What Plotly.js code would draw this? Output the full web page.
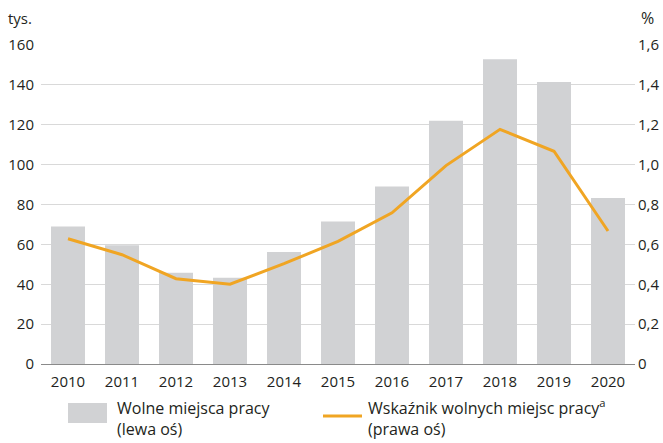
<!DOCTYPE html>
<html>
<head>
<meta charset="utf-8">
<script src="https://cdn.plot.ly/plotly-3.0.1.min.js"></script>
<style>html,body{margin:0;padding:0;background:#fff;}#chart{width:663px;height:443px;}</style>
</head>
<body>
<div id="chart"></div>
<script>
const years = ['2010','2011','2012','2013','2014','2015','2016','2017','2018','2019','2020'];
const vacancies = [69, 59.5, 45.8, 43.3, 56.2, 71.5, 89, 122, 152.8, 141.5, 83.2];
const vacancyRate = [0.628, 0.548, 0.428, 0.40, 0.503, 0.615, 0.758, 0.995, 1.177, 1.067, 0.667];
const leftTicks = [0, 20, 40, 60, 80, 100, 120, 140, 160];
const rightTicks = [0, 0.2, 0.4, 0.6, 0.8, 1.0, 1.2, 1.4, 1.6];
const rightTickText = ['0', '0,2', '0,4', '0,6', '0,8', '1,0', '1,2', '1,4', '1,6'];
const barLegend = 'Wolne miejsca pracy<br>(lewa oś)';
const lineLegend = 'Wskaźnik wolnych miejsc pracy<sup>a</sup><br>(prawa oś)';
const leftUnit = 'tys.';
const rightUnit = '%';

const barColor = '#d1d2d4';
const lineColor = '#f0a523';
const fam = 'Open Sans, Noto Sans, sans-serif';
const font = {family: fam, size: 15, color: '#231f20'};
const legendFont = {family: fam, size: 16, color: '#231f20'};

// plot area in px: x 41..635, y 45..364
const W = 663, H = 443, L = 41, R = 28, T = 45, B = 79;
const pw = W - L - R, ph = H - T - B;
const px = v => (v - L) / pw;
const py = v => (H - B - v) / ph;

const data = [
  {type: 'bar', x: years, y: vacancies, name: 'Wolne miejsca pracy (lewa oś)', marker: {color: barColor}, yaxis: 'y', hoverinfo: 'skip'},
  {type: 'scatter', mode: 'lines', x: years, y: vacancyRate, name: 'Wskaźnik wolnych miejsc pracy (prawa oś)', line: {color: lineColor, width: 3}, yaxis: 'y2', hoverinfo: 'skip'}
];

const layout = {
  width: W, height: H,
  margin: {l: L, r: R, t: T, b: B},
  paper_bgcolor: '#fff', plot_bgcolor: '#fff',
  font: font,
  bargap: 0.37,
  showlegend: false,
  xaxis: {type: 'category', showgrid: false, zeroline: false, showline: false, ticks: '', tickfont: font, ticklabelstandoff: 7, fixedrange: true},
  yaxis: {range: [0, 160], tickvals: leftTicks, showgrid: true, gridcolor: '#d9d9d9', gridwidth: 1, zeroline: true, zerolinecolor: '#8a8a8a', zerolinewidth: 1, showline: false, ticks: '', tickfont: font, ticklabelstandoff: 6, fixedrange: true},
  yaxis2: {range: [0, 1.6], overlaying: 'y', side: 'right', tickvals: rightTicks, ticktext: rightTickText, showgrid: false, zeroline: false, showline: false, ticks: '', tickfont: font, ticklabelstandoff: 2, fixedrange: true},
  shapes: [
    {type: 'rect', xref: 'paper', yref: 'paper', x0: px(68), x1: px(107), y0: py(423), y1: py(403), fillcolor: barColor, line: {width: 0}},
    {type: 'line', xref: 'paper', yref: 'paper', x0: px(323), x1: px(362), y0: py(416), y1: py(416), line: {color: lineColor, width: 3}}
  ],
  annotations: [
    {text: leftUnit, xref: 'paper', yref: 'paper', x: px(6), y: py(18), xanchor: 'left', yanchor: 'middle', showarrow: false, font: font},
    {text: rightUnit, xref: 'paper', yref: 'paper', x: px(639), y: py(18), xanchor: 'left', yanchor: 'middle', showarrow: false, font: {family: fam, size: 16, color: '#231f20'}},
    {text: barLegend, xref: 'paper', yref: 'paper', x: px(115), y: py(442), xanchor: 'left', yanchor: 'bottom', align: 'left', showarrow: false, font: legendFont},
    {text: lineLegend, xref: 'paper', yref: 'paper', x: px(366), y: py(442), xanchor: 'left', yanchor: 'bottom', align: 'left', showarrow: false, font: legendFont}
  ]
};

Plotly.newPlot('chart', data, layout, {staticPlot: true, displayModeBar: false});
</script>
</body>
</html>
